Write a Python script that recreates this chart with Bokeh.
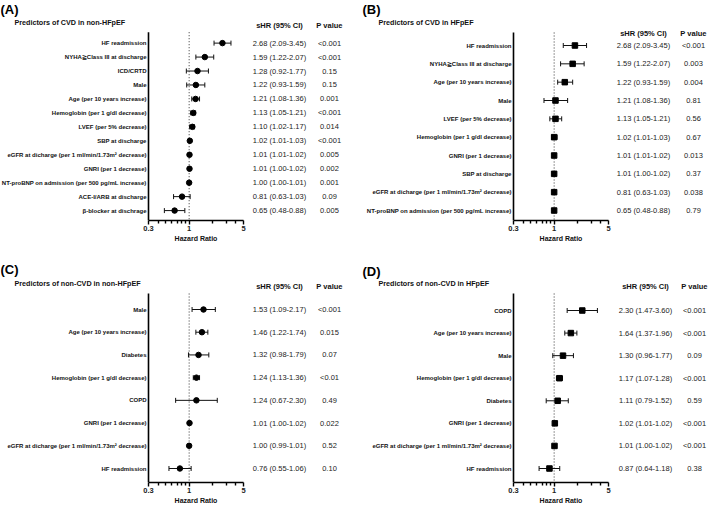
import numpy as np
from bokeh.plotting import figure
from bokeh.models import (Range1d, FixedTicker, CustomJSTickFormatter, LogAxis,
                          LinearScale, ColumnDataSource)
from bokeh.layouts import column, row
from bokeh.embed import file_html
from bokeh.resources import INLINE
from bokeh.core.properties import value

# ---------------- data ----------------
# Panel A: Predictors of CVD in non-HFpEF
a_labels = ["HF readmission", "NYHA≧Class III at discharge", "ICD/CRTD", "Male",
            "Age (per 10 years increase)", "Hemoglobin (per 1 g/dl decrease)",
            "LVEF (per 5% decrease)", "SBP at discharge",
            "eGFR at dicharge (per 1 ml/min/1.73m² decrease)", "GNRI (per 1 decrease)",
            "NT-proBNP on admission (per 500 pg/mL increase)", "ACE-I/ARB at discharge",
            "β-blocker at dischrage"]
a_hr = [2.68, 1.59, 1.28, 1.22, 1.21, 1.13, 1.10, 1.02, 1.01, 1.01, 1.00, 0.81, 0.65]
a_lo = [2.09, 1.22, 0.92, 0.93, 1.08, 1.05, 1.02, 1.01, 1.01, 1.00, 1.00, 0.63, 0.48]
a_hi = [3.45, 2.07, 1.77, 1.59, 1.36, 1.21, 1.17, 1.03, 1.02, 1.02, 1.01, 1.03, 0.88]
a_est = ["2.68 (2.09-3.45)", "1.59 (1.22-2.07)", "1.28 (0.92-1.77)", "1.22 (0.93-1.59)",
         "1.21 (1.08-1.36)", "1.13 (1.05-1.21)", "1.10 (1.02-1.17)", "1.02 (1.01-1.03)",
         "1.01 (1.01-1.02)", "1.01 (1.00-1.02)", "1.00 (1.00-1.01)", "0.81 (0.63-1.03)",
         "0.65 (0.48-0.88)"]
a_p = ["<0.001", "<0.001", "0.15", "0.15", "0.001", "<0.001", "0.014", "<0.001",
       "0.005", "0.002", "0.001", "0.09", "0.005"]

b_labels = ["HF readmission", "NYHA≧Class III at discharge", "Age (per 10 years increase)",
            "Male", "LVEF (per 5% decrease)", "Hemoglobin (per 1 g/dl decrease)",
            "GNRI (per 1 decrease)", "SBP at discharge",
            "eGFR at dicharge (per 1 ml/min/1.73m² decrease)",
            "NT-proBNP on admission (per 500 pg/mL increase)"]
b_hr = [1.85, 1.73, 1.37, 1.04, 1.04, 1.00, 1.00, 1.00, 1.00, 1.00]
b_lo = [1.31, 1.21, 1.11, 0.74, 0.88, 0.93, 0.99, 0.99, 0.99, 0.995]
b_hi = [2.61, 2.43, 1.73, 1.49, 1.25, 1.09, 1.01, 1.01, 1.01, 1.005]
b_est = ["2.68 (2.09-3.45)", "1.59 (1.22-2.07)", "1.22 (0.93-1.59)", "1.21 (1.08-1.36)",
         "1.13 (1.05-1.21)", "1.02 (1.01-1.03)", "1.01 (1.01-1.02)", "1.01 (1.00-1.02)",
         "0.81 (0.63-1.03)", "0.65 (0.48-0.88)"]
b_p = ["<0.001", "0.003", "0.004", "0.81", "0.56", "0.67", "0.013", "0.37", "0.038", "0.79"]

# Panel C: Predictors of non-CVD in non-HFpEF
c_labels = ["Male", "Age (per 10 years increase)", "Diabetes",
            "Hemoglobin (per 1 g/dl decrease)", "COPD", "GNRI (per 1 decrease)",
            "eGFR at dicharge (per 1 ml/min/1.73m² decrease)", "HF readmission"]
c_hr = [1.53, 1.46, 1.32, 1.24, 1.24, 1.01, 1.00, 0.76]
c_lo = [1.09, 1.22, 0.98, 1.13, 0.67, 1.00, 0.99, 0.55]
c_hi = [2.17, 1.74, 1.79, 1.36, 2.30, 1.02, 1.01, 1.06]
c_est = ["1.53 (1.09-2.17)", "1.46 (1.22-1.74)", "1.32 (0.98-1.79)", "1.24 (1.13-1.36)",
         "1.24 (0.67-2.30)", "1.01 (1.00-1.02)", "1.00 (0.99-1.01)", "0.76 (0.55-1.06)"]
c_p = ["<0.001", "0.015", "0.07", "<0.01", "0.49", "0.022", "0.52", "0.10"]

# Panel D: Predictors of non-CVD in HFpEF
d_labels = ["COPD", "Age (per 10 years increase)", "Male",
            "Hemoglobin (per 1 g/dl decrease)", "Diabetes", "GNRI (per 1 decrease)",
            "eGFR at dicharge (per 1 ml/min/1.73m² decrease)", "HF readmission"]
d_hr = [2.30, 1.64, 1.30, 1.17, 1.11, 1.02, 1.01, 0.87]
d_lo = [1.47, 1.37, 0.96, 1.07, 0.79, 1.01, 1.00, 0.64]
d_hi = [3.60, 1.96, 1.77, 1.28, 1.52, 1.02, 1.02, 1.18]
d_est = ["2.30 (1.47-3.60)", "1.64 (1.37-1.96)", "1.30 (0.96-1.77)", "1.17 (1.07-1.28)",
         "1.11 (0.79-1.52)", "1.02 (1.01-1.02)", "1.01 (1.00-1.02)", "0.87 (0.64-1.18)"]
d_p = ["<0.001", "<0.001", "0.09", "<0.001", "0.59", "<0.001", "<0.001", "0.38"]

x_major = [0.3, 1, 5]
x_minor = [0.4, 0.5, 0.6, 0.7, 0.8, 0.9, 2, 3, 4]
XMIN, XMAX = 0.3, 5.0
FONT = "Liberation Sans"
INK = "#111111"


def panel(letter, title, labels, hr, lo, hi, est, pv, marker, lay):
    W, H, X0, Wa = lay["W"], lay["H"], lay["X0"], lay["Wa"]
    T0, Ax, r0, r1 = lay["T0"], lay["Ax"], lay["r0"], lay["r1"]
    n = len(labels)
    s = (r1 - r0) / (n - 1)
    ratio = XMAX / XMIN
    x_start = XMIN * ratio ** (-X0 / Wa)
    x_end = XMIN * ratio ** ((W - X0) / Wa)
    p = figure(width=W, height=H, x_axis_type="log", y_axis_type=None,
               x_range=Range1d(x_start, x_end),
               y_range=Range1d((Ax - r0) / s, -r0 / s),
               output_backend="svg", toolbar_location=None,
               min_border_left=0, min_border_right=0,
               min_border_top=0, min_border_bottom=H - Ax)
    # page-layout coordinate system (pixels inside the panel), linear
    p.extra_x_ranges = {"px": Range1d(0, W)}
    p.extra_x_scales = {"px": LinearScale()}
    p.extra_y_ranges = {"py": Range1d(Ax, 0)}
    p.extra_y_scales = {"py": LinearScale()}
    p.outline_line_color = None
    p.grid.visible = False
    p.background_fill_color = "white"
    p.border_fill_color = "white"

    # x axis (hazard ratio, log scale)
    xa = p.xaxis[0]
    xa.ticker = FixedTicker(ticks=x_major, minor_ticks=x_minor)
    xa.formatter = CustomJSTickFormatter(code="return String(tick)")
    xa.bounds = (XMIN, XMAX)
    xa.axis_line_width = 1.6
    xa.axis_line_color = "black"
    xa.major_tick_line_width = 1.4
    xa.major_tick_line_color = "black"
    xa.minor_tick_line_width = 1.4
    xa.minor_tick_line_color = "black"
    xa.major_tick_out = 4
    xa.major_tick_in = 0
    xa.minor_tick_out = 3
    xa.minor_tick_in = 0
    xa.major_label_standoff = 1
    xa.major_label_text_font = FONT
    xa.major_label_text_font_size = "7.5px"
    xa.major_label_text_font_style = "bold"
    xa.major_label_text_color = "#222222"

    # axis title, centred under the 0.3-5 axis
    ax2 = LogAxis(ticker=FixedTicker(ticks=[float(np.sqrt(XMIN * XMAX))]),
                  formatter=CustomJSTickFormatter(args=dict(t="Hazard Ratio"), code="return t"),
                  bounds=(XMIN, XMAX), axis_line_color=None,
                  major_tick_line_color=None, minor_tick_line_color=None,
                  major_tick_out=0, major_tick_in=0, major_label_standoff=1,
                  major_label_text_font=FONT, major_label_text_font_size="7px",
                  major_label_text_font_style="bold", major_label_text_color=INK)
    p.add_layout(ax2, "below")

    src = ColumnDataSource(dict(y=list(range(n)), hr=hr, lo=lo, hi=hi, est=est, pv=pv,
                                lab=labels))

    # y axis line and row labels
    p.segment(x0=XMIN, x1=XMIN, y0=T0, y1=Ax, y_range_name="py",
              line_color="black", line_width=1.6)
    p.text(x=XMIN, y="y", text="lab", source=src, x_offset=-2,
           text_align="right", text_baseline="middle", text_font=value(FONT),
           text_font_size="6px", text_font_style="bold", text_color=INK)

    # reference line at HR = 1
    p.segment(x0=1, x1=1, y0=T0, y1=Ax, y_range_name="py",
              line_color="#333333", line_width=1, line_dash="1 2")

    # error bars and estimates
    p.segment(x0="lo", x1="hi", y0="y", y1="y", source=src, line_color=INK, line_width=1)
    p.scatter(x="lo", y="y", source=src, marker="dash", angle=np.pi / 2, size=5,
              line_color=INK, line_width=1)
    p.scatter(x="hi", y="y", source=src, marker="dash", angle=np.pi / 2, size=5,
              line_color=INK, line_width=1)
    p.scatter(x="hr", y="y", source=src, marker=marker, size=lay["msize"],
              fill_color="black", line_color="black")

    # table columns
    cx1, cx2 = lay["c1"], lay["c2"]
    p.text(x=cx1, y="y", text="est", source=src, x_range_name="px",
           text_align="center", text_baseline="middle", text_font=value(FONT),
           text_font_size="7.5px", text_color="#222222")
    p.text(x=cx2, y="y", text="pv", source=src, x_range_name="px",
           text_align="center", text_baseline="middle", text_font=value(FONT),
           text_font_size="7.5px", text_color="#222222")
    hy = lay["hy"]
    p.text(x=[cx1, cx2], y=[hy, hy], text=["sHR (95% CI)", "P value"],
           x_range_name="px", y_range_name="py",
           text_align="center", text_baseline="middle", text_font=value(FONT),
           text_font_size="7.5px", text_font_style="bold", text_color=INK)

    # panel letter and title
    p.text(x=[lay["lx"]], y=[lay["ly"]], text=[letter], x_range_name="px", y_range_name="py",
           text_align="left", text_baseline="middle", text_font=value(FONT),
           text_font_size="13px", text_font_style="bold", text_color="black")
    p.text(x=[lay["tx"]], y=[lay["ty"]], text=[title], x_range_name="px", y_range_name="py",
           text_align="left", text_baseline="middle", text_font=value(FONT),
           text_font_size="7.2px", text_font_style="bold", text_color=INK)
    return p


lay_a = dict(W=354, H=254, X0=148, Wa=95, T0=32, Ax=222, r0=43, r1=212,
             hy=25, c1=279, c2=329, lx=0, ly=9, tx=14, ty=22, msize=5.5)
lay_b = dict(W=355, H=254, X0=159, Wa=95, T0=32, Ax=220, r0=45, r1=210,
             hy=33, c1=289, c2=339, lx=8, ly=9, tx=24, ty=22, msize=5.5)
lay_c = dict(W=354, H=254, X0=148, Wa=95, T0=39, Ax=228, r0=55, r1=214,
             hy=32, c1=279, c2=329, lx=0, ly=15, tx=14, ty=29, msize=5.5)
lay_d = dict(W=355, H=254, X0=159, Wa=95, T0=39, Ax=228, r0=56, r1=214,
             hy=32, c1=291, c2=340, lx=8, ly=17, tx=24, ty=29, msize=5.5)

pa = panel("(A)", "Predictors of CVD in non-HFpEF", a_labels, a_hr, a_lo, a_hi, a_est, a_p,
           "circle", lay_a)
pb = panel("(B)", "Predictors of CVD in HFpEF", b_labels, b_hr, b_lo, b_hi, b_est, b_p,
           "square", lay_b)
pc = panel("(C)", "Predictors of non-CVD in non-HFpEF", c_labels, c_hr, c_lo, c_hi, c_est, c_p,
           "circle", lay_c)
pd_ = panel("(D)", "Predictors of non-CVD in HFpEF", d_labels, d_hr, d_lo, d_hi, d_est, d_p,
            "square", lay_d)

layout = column(row(pa, pb), row(pc, pd_))
open("out.html", "w").write(file_html(layout, INLINE))
